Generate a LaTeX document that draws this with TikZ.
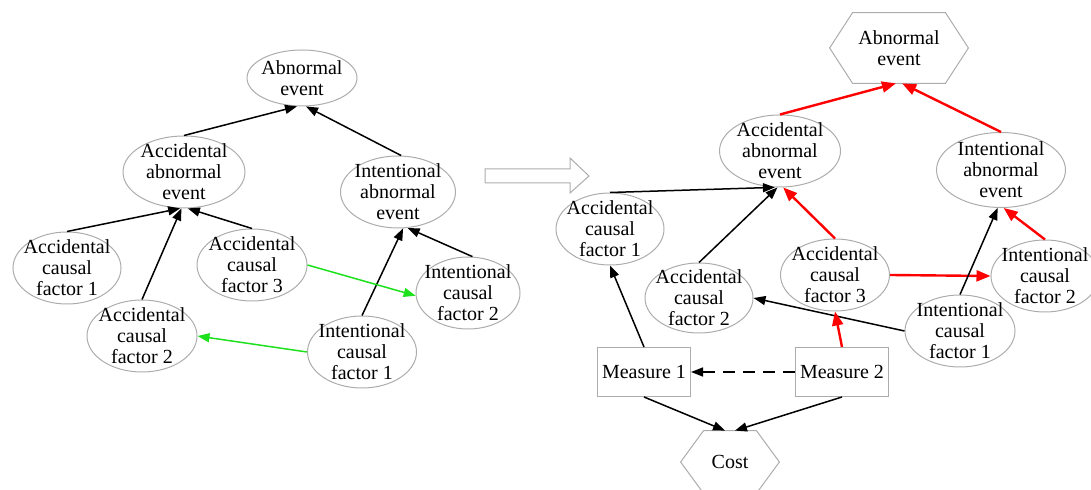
\documentclass[tikz,border=0pt]{standalone}
\usepackage{fontspec}
\setmainfont{Liberation Serif}
\usetikzlibrary{arrows.meta, shapes.geometric, calc}
\definecolor{linkgreen}{RGB}{30,225,30}

\begin{document}
\begin{tikzpicture}[
  x=0.5pt, y=-0.5pt,
  font=\fontsize{10}{10.5}\selectfont,
  evt/.style    = {ellipse, draw=gray!65, line width=0.5pt, align=center,
                   inner xsep=-6pt, inner ysep=-6pt,
                   minimum width=55pt, minimum height=36pt},
  hexbox/.style = {rectangle, inner sep=0pt, align=center},
  meas/.style   = {rectangle, draw=gray!65, line width=0.5pt,
                   minimum width=46.5pt, minimum height=24.5pt, inner sep=1pt},
  outline/.style= {draw=gray!65, line width=0.5pt},
  arr/.style    = {-{Triangle[length=6pt, width=4.5pt]}, line width=0.75pt},
  redarr/.style = {-{Triangle[length=7pt, width=5.5pt]}, red, line width=1.2pt},
  grnarr/.style = {arr, linkgreen},
]
\useasboundingbox (0,0) rectangle (1091,490);

%% ── Left tree: before measures ───────────────────────────────────────────
\node[evt, minimum height=28pt]   (ab)   at (302,78)  {Abnormal\\event};
\node[evt, minimum width=61pt]    (aae)  at (184,172) {Accidental\\abnormal\\event};
\node[evt, minimum width=57.5pt]  (iae)  at (398,192) {Intentional\\abnormal\\event};
\node[evt, minimum width=54pt]    (acf1) at (67,268)  {Accidental\\causal\\factor 1};
\node[evt]                        (acf3) at (252,265) {Accidental\\causal\\factor 3};
\node[evt]                        (acf2) at (142,336) {Accidental\\causal\\factor 2};
\node[evt, minimum width=54.5pt]  (icf1) at (362,352) {Intentional\\causal\\factor 1};
\node[evt, minimum width=52pt]    (icf2) at (468,293) {Intentional\\causal\\factor 2};

\draw[arr] (aae.north)  -- (ab.260);
\draw[arr] (iae.85)     -- (ab.278);
\draw[arr] (acf1.north) -- (aae.264);
\draw[arr] (acf2.north) -- (aae.266);
\draw[arr] (acf3.north) -- (aae.276);
\draw[arr] (icf1.north) -- (iae.278);
\draw[arr] (icf2.83)    -- (iae.285);
\draw[grnarr] (acf3.east) -- (icf2.183);
\draw[grnarr] (icf1.west) -- (acf2.east);

%% ── Transition arrow ─────────────────────────────────────────────────────
\draw[outline] (485,169) -- (570,169) -- (570,158) -- (589,176)
               -- (570,193) -- (570,183) -- (485,183) -- cycle;

%% ── Right tree: with measures and cost ───────────────────────────────────
\node[hexbox, minimum width=69pt, minimum height=35pt] (rab) at (899,48) {Abnormal\\event};
\node[evt, minimum width=60.5pt]  (raae)  at (780,151)  {Accidental\\abnormal\\event};
\node[evt, minimum width=64.5pt, minimum height=37.5pt]
                                  (riae)  at (1001,170) {Intentional\\abnormal\\event};
\node[evt, minimum width=54pt]    (racf1) at (610,229)  {Accidental\\causal\\factor 1};
\node[evt, minimum width=54pt, minimum height=35pt]
                                  (racf2) at (699,298)  {Accidental\\causal\\factor 2};
\node[evt, minimum width=54.5pt]  (racf3) at (835,275)  {Accidental\\causal\\factor 3};
\node[evt, minimum width=54pt]    (ricf2) at (1045,276) {Intentional\\causal\\factor 2};
\node[evt]                        (ricf1) at (960,331)  {Intentional\\causal\\factor 1};
\node[meas]                       (m1)    at (644,372)  {Measure 1};
\node[meas]                       (m2)    at (842,372)  {Measure 2};
\node[hexbox, minimum width=49pt, minimum height=31pt] (cost) at (730,462) {Cost};

%% hexagon outlines
\draw[outline] (rab.west) -- ($(rab.north west)+(23,0)$) -- ($(rab.north east)+(-23,0)$)
               -- (rab.east) -- ($(rab.south east)+(-23,0)$) -- ($(rab.south west)+(23,0)$) -- cycle;
\draw[outline] (cost.west) -- ($(cost.north west)+(23,0)$) -- ($(cost.north east)+(-23,0)$)
               -- (cost.east) -- ($(cost.south east)+(-23,0)$) -- ($(cost.south west)+(23,0)$) -- cycle;

%% ── Arrows ───────────────────────────────────────────────────────────────
\draw[redarr] (raae.north)  -- (rab.265);
\draw[redarr] (riae.north)  -- (rab.275);
\draw[arr]    (racf1.north) -- (raae.262);
\draw[arr]    (racf2.north) -- (raae.266);
\draw[redarr] (racf3.north) -- (raae.275);
\draw[redarr] (racf3.east)  -- (ricf2.west);
\draw[arr]    (ricf1.north) -- (riae.265);
\draw[redarr] (ricf2.north) -- (riae.274);
\draw[arr]    (ricf1.west)  -- (racf2.east);
\draw[redarr] (m2.north)    -- (racf3.south);
\draw[arr]    (m1.north)    -- (racf1.south);
\draw[arr, dashed, dash pattern=on 6pt off 4pt] (m2.west) -- (m1.east);
\draw[arr]    (m1.south)    -- (cost.99);
\draw[arr]    (m2.south)    -- (cost.81);

\end{tikzpicture}
\end{document}
